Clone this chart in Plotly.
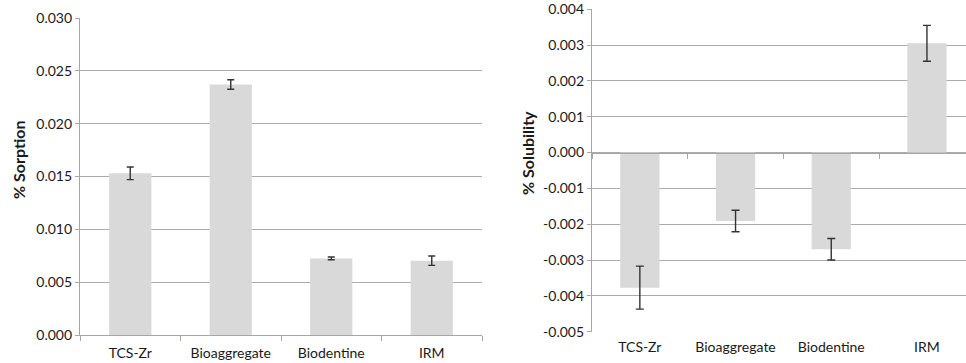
import plotly.graph_objects as go

categories = ["TCS-Zr", "Bioaggregate", "Biodentine", "IRM"]
sorption = [0.0153, 0.0237, 0.00725, 0.00703]
sorption_err = [0.0006, 0.00045, 0.00013, 0.00044]
solubility = [-0.00377, -0.00191, -0.00270, 0.00305]
solubility_err = [0.0006, 0.0003, 0.0003, 0.0005]

sorp_ticks = [0.000, 0.005, 0.010, 0.015, 0.020, 0.025, 0.030]
sol_ticks = [-0.005, -0.004, -0.003, -0.002, -0.001, 0.000, 0.001, 0.002, 0.003, 0.004]

W, H = 966, 363
BAR = "#d9d9d9"
GRID = "#ababab"
AX = "#a6a6a6"
TXT = "#1a1a1a"
FONT = "Lato, Carlito, 'Open Sans', sans-serif"

# domains (paper coords)
lx0, lx1 = 80 / W, 482 / W
ly0, ly1 = 1 - 335 / H, 1 - 18 / H
rx0, rx1 = 592 / W, 1.0
ry0, ry1 = 1 - 331.7 / H, 1 - 9.3 / H
cat_px = 95.7
r_span = (W - 592) / cat_px
sol_range = [-0.005, 0.004]
zero_pos = ry0 + (0 - sol_range[0]) / (sol_range[1] - sol_range[0]) * (ry1 - ry0)

fig = go.Figure()
fig.add_trace(go.Bar(
    x=categories, y=sorption, xaxis="x", yaxis="y",
    marker=dict(color=BAR, line=dict(width=0)), width=0.42,
    error_y=dict(type="data", array=sorption_err, color="#333333", thickness=1.4, width=3.5),
    showlegend=False,
))
fig.add_trace(go.Bar(
    x=categories, y=solubility, xaxis="x2", yaxis="y2",
    marker=dict(color=BAR, line=dict(width=0)), width=0.41,
    error_y=dict(type="data", array=solubility_err, color="#333333", thickness=1.4, width=4),
    showlegend=False,
))
# invisible trace carrying the zero-level axis with boundary ticks
fig.add_trace(go.Scatter(
    x=categories, y=solubility, xaxis="x3", yaxis="y2", mode="markers",
    marker=dict(opacity=0), hoverinfo="skip", showlegend=False,
))

tickfont = dict(family=FONT, size=14, color=TXT)

fig.update_layout(
    width=W, height=H,
    margin=dict(l=0, r=0, t=0, b=0, autoexpand=False),
    paper_bgcolor="white", plot_bgcolor="white",
    bargap=0.58,
    xaxis=dict(domain=[lx0, lx1], anchor="y", type="category", range=[-0.5, 3.5],
               showline=True, linecolor=AX, linewidth=1.2, ticks="outside",
               tickson="boundaries", ticklen=5, tickcolor=AX, showgrid=False,
               tickfont=tickfont, automargin=False, ticklabelstandoff=5),
    yaxis=dict(domain=[ly0, ly1], anchor="x", range=[0, 0.030],
               tickvals=sorp_ticks, ticktext=[f"{v:.3f}" for v in sorp_ticks],
               showline=True, linecolor=AX, linewidth=1.2, ticks="outside", ticklen=4,
               tickcolor=AX, showgrid=True, gridcolor=GRID, gridwidth=1,
               zeroline=False, tickfont=tickfont, automargin=False),
    xaxis2=dict(domain=[rx0, rx1], anchor="y2", type="category",
                range=[-0.5, -0.5 + r_span],
                showline=False, ticks="", showgrid=False, tickfont=tickfont,
                automargin=False, ticklabelstandoff=5),
    xaxis3=dict(domain=[rx0, rx1], anchor="free", position=zero_pos, overlaying="x2",
                type="category", range=[-0.5, -0.5 + r_span],
                showline=True, linecolor=AX, linewidth=1.2, ticks="outside",
                tickson="boundaries", ticklen=5, tickcolor=AX, showgrid=False,
                showticklabels=False, automargin=False),
    yaxis2=dict(domain=[ry0, ry1], anchor="x2", range=sol_range,
                tickvals=sol_ticks, ticktext=[f"{v:.3f}" for v in sol_ticks],
                showline=True, linecolor=AX, linewidth=1.2, ticks="outside", ticklen=4,
                tickcolor=AX, showgrid=True, gridcolor=GRID, gridwidth=1,
                zeroline=False, tickfont=tickfont, automargin=False),
    annotations=[
        dict(text="<b>% Sorption</b>", textangle=-90, x=18 / W, y=1 - 160 / H,
             xref="paper", yref="paper", showarrow=False,
             xanchor="center", yanchor="middle",
             font=dict(family=FONT, size=16, color=TXT)),
        dict(text="<b>% Solubility</b>", textangle=-90, x=528 / W, y=1 - 153 / H,
             xref="paper", yref="paper", showarrow=False,
             xanchor="center", yanchor="middle",
             font=dict(family=FONT, size=16, color=TXT)),
    ],
)

fig.write_html(
    "out.html",
    config={"displayModeBar": False},
    post_script="document.body.style.margin='0';document.body.style.overflow='hidden';",
)
